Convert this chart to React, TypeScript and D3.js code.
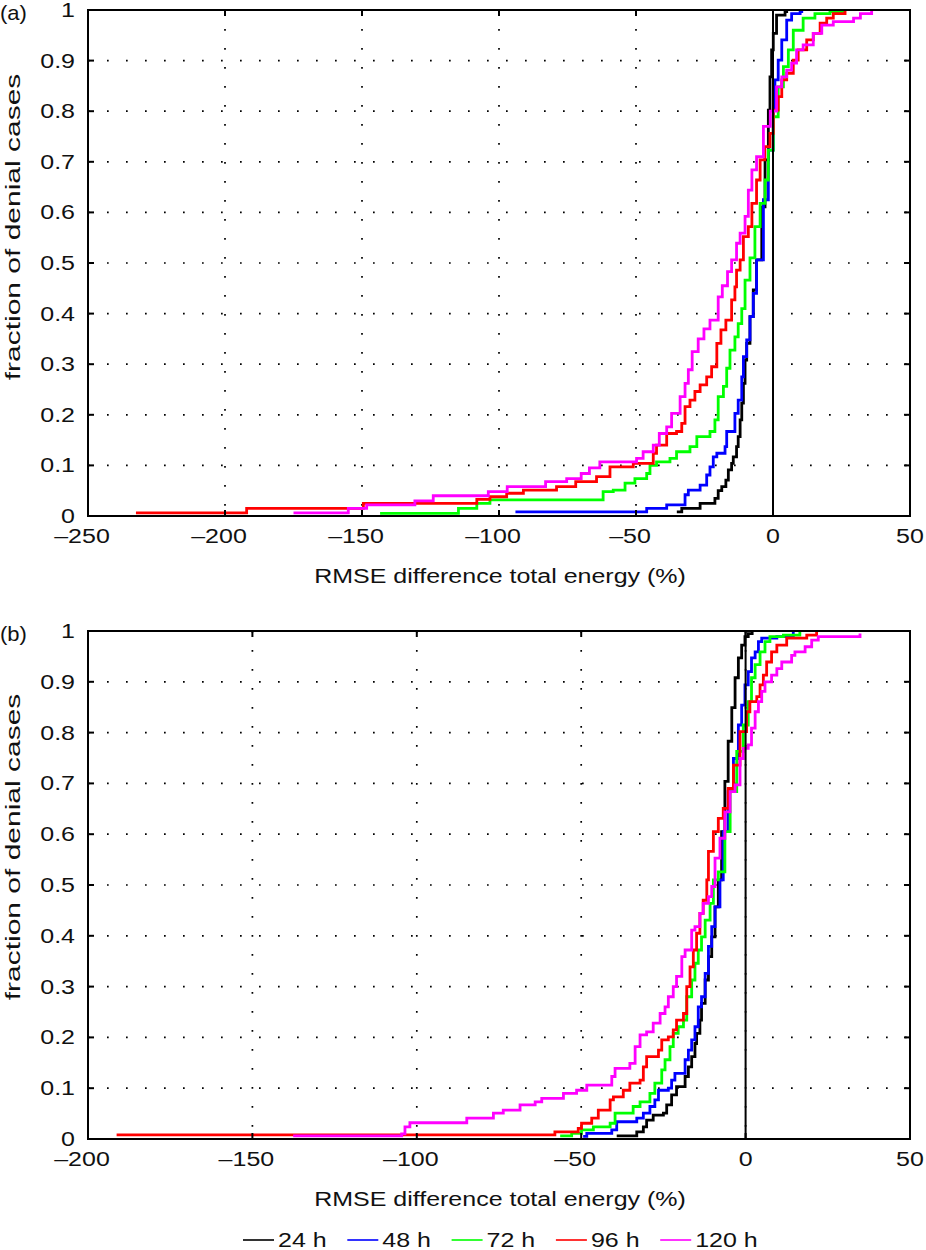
import * as d3 from 'd3';

// panel (a): [RMSE difference %, fraction of cases]
const a24: [number, number][] = [[-35.1,0.008],[-33.3,0.015],[-26.6,0.025],[-21.2,0.035],[-20,0.05],[-18.7,0.058],[-17.2,0.071],[-16.3,0.091],[-15.1,0.104],[-14.5,0.117],[-13.3,0.137],[-12.7,0.157],[-12,0.19],[-11.4,0.223],[-10.8,0.262],[-10.2,0.308],[-9.6,0.341],[-8.4,0.394],[-7.2,0.447],[-6,0.506],[-4.1,0.611],[-2.9,0.704],[-1.7,0.802],[-1.1,0.868],[-0.5,0.921],[0.1,0.954],[1.3,0.99],[4.4,0.997],[5,1]];
const a48: [number, number][] = [[-94,0.008],[-46.1,0.015],[-38.8,0.022],[-32.1,0.042],[-30.9,0.051],[-26.6,0.061],[-24.2,0.081],[-23,0.097],[-21.8,0.117],[-20.5,0.124],[-17.5,0.137],[-16.9,0.167],[-13.9,0.203],[-12.7,0.229],[-11.4,0.275],[-10.8,0.315],[-9.6,0.348],[-8.4,0.394],[-7.2,0.44],[-6,0.506],[-3.5,0.625],[-1.7,0.723],[0.1,0.802],[0.7,0.862],[1.9,0.901],[3.2,0.941],[5,0.98],[6.8,0.993],[9.9,0.997],[10.5,1]];
const a72: [number, number][] = [[-143.4,0.005],[-114.8,0.015],[-108.1,0.025],[-103.3,0.032],[-62,0.048],[-58.3,0.051],[-54,0.065],[-50.4,0.074],[-46.1,0.084],[-44.9,0.1],[-42.5,0.107],[-37.6,0.114],[-35.2,0.127],[-30.3,0.137],[-27.8,0.157],[-23,0.167],[-21.2,0.19],[-20,0.236],[-18.1,0.256],[-16.9,0.292],[-15.7,0.328],[-13.9,0.354],[-12.7,0.38],[-11.4,0.41],[-10.2,0.466],[-8.4,0.51],[-6.6,0.572],[-4.7,0.618],[-2.9,0.664],[-1.7,0.723],[0.1,0.789],[1.9,0.848],[3.8,0.888],[5.6,0.921],[7.4,0.96],[11,0.984],[15.3,0.993],[20.8,0.997],[25.5,1]];
const a96: [number, number][] = [[-232.5,0.006],[-192.1,0.015],[-149.5,0.025],[-108.1,0.033],[-103.3,0.038],[-97.2,0.045],[-91.1,0.051],[-79,0.058],[-72,0.068],[-64.4,0.078],[-59.5,0.097],[-51,0.104],[-43.7,0.124],[-42.5,0.14],[-38.8,0.163],[-35.2,0.167],[-33.3,0.183],[-32.1,0.216],[-30.3,0.229],[-28.5,0.246],[-26.6,0.259],[-24.2,0.275],[-22.4,0.295],[-20.5,0.341],[-19,0.368],[-17.2,0.387],[-15.1,0.427],[-13.9,0.453],[-13.3,0.486],[-12,0.506],[-10.8,0.552],[-9,0.572],[-7.7,0.618],[-6,0.664],[-4.7,0.704],[-3,0.73],[-1.1,0.756],[0.1,0.802],[1.9,0.829],[3.2,0.862],[5,0.875],[7.4,0.901],[9.2,0.921],[12.3,0.941],[14.7,0.954],[17.2,0.974],[19.6,0.984],[22,0.993],[26.3,1]];
const a120: [number, number][] = [[-175,0.006],[-155,0.015],[-148.3,0.022],[-130.7,0.03],[-124,0.04],[-103.9,0.048],[-97,0.058],[-83,0.068],[-75.3,0.074],[-70,0.084],[-67,0.095],[-63.2,0.107],[-49.8,0.114],[-47.4,0.127],[-43.7,0.14],[-41.5,0.163],[-38.8,0.176],[-37,0.203],[-33.9,0.236],[-32.1,0.262],[-30.9,0.289],[-29.5,0.325],[-27.3,0.35],[-25.2,0.37],[-23,0.387],[-20,0.433],[-18.5,0.455],[-16.6,0.483],[-15.1,0.506],[-13.3,0.539],[-12,0.559],[-10.2,0.592],[-9,0.644],[-7.7,0.684],[-6,0.71],[-3.5,0.77],[-1,0.8],[1.3,0.848],[3.2,0.868],[5,0.881],[6.8,0.895],[8.6,0.921],[11,0.931],[14.7,0.954],[17.8,0.97],[22,0.977],[29.4,0.984],[31.9,0.993],[36,1]];

// panel (b)
const b24: [number, number][] = [[-39.2,0.006],[-33.1,0.014],[-31.1,0.024],[-30.1,0.037],[-28.1,0.047],[-25,0.051],[-24,0.067],[-22.5,0.087],[-21,0.103],[-18.4,0.123],[-17.4,0.142],[-16.4,0.162],[-15.4,0.188],[-14.9,0.208],[-13.9,0.234],[-13.4,0.267],[-12.3,0.313],[-11.3,0.359],[-10.3,0.398],[-9.3,0.457],[-8.3,0.51],[-7.3,0.605],[-6.3,0.704],[-5.3,0.783],[-4.2,0.849],[-3.2,0.908],[-2.2,0.947],[-1.2,0.972],[-0.2,0.989],[0.8,0.995],[2,1]];
const b48: [number, number][] = [[-49.4,0.005],[-48.3,0.011],[-40.7,0.018],[-39.2,0.034],[-33.1,0.041],[-31.1,0.051],[-29.1,0.064],[-27.6,0.077],[-26.5,0.096],[-23.5,0.1],[-22.5,0.116],[-21.5,0.129],[-18.4,0.156],[-17.4,0.175],[-16.4,0.195],[-15.4,0.221],[-14.4,0.26],[-13.4,0.28],[-12.3,0.326],[-11.3,0.379],[-10.3,0.418],[-9.3,0.457],[-7.8,0.51],[-6.8,0.605],[-5.3,0.684],[-3.7,0.749],[-2.2,0.815],[-1.2,0.854],[-0.2,0.894],[0.8,0.92],[1.8,0.947],[2.9,0.959],[3.9,0.979],[4.9,0.986],[9.5,0.989],[14.5,1]];
const b72: [number, number][] = [[-56.4,0.006],[-52.9,0.011],[-49.9,0.018],[-46.3,0.024],[-41.2,0.031],[-39.7,0.051],[-34.2,0.064],[-32.1,0.073],[-29.1,0.09],[-27.6,0.11],[-25.5,0.136],[-24.5,0.156],[-23,0.182],[-22,0.208],[-20.5,0.221],[-18.9,0.234],[-17.9,0.28],[-16.4,0.313],[-15.4,0.346],[-14.4,0.372],[-13.4,0.398],[-12.3,0.431],[-10.8,0.464],[-9.8,0.51],[-8.3,0.526],[-6.3,0.605],[-4.7,0.684],[-2.7,0.763],[-0.7,0.815],[0.8,0.861],[1.8,0.908],[2.9,0.934],[4.4,0.959],[5.9,0.979],[7.4,0.989],[11.5,0.992],[16.5,1]];
const b96: [number, number][] = [[-191.3,0.008],[-58,0.014],[-50.9,0.021],[-49.9,0.031],[-46.8,0.041],[-44.8,0.057],[-41.2,0.077],[-40.2,0.083],[-37.2,0.096],[-35.2,0.11],[-32.1,0.116],[-31.1,0.142],[-30.1,0.162],[-26.5,0.175],[-25.5,0.195],[-23.5,0.201],[-22,0.215],[-21,0.234],[-18.9,0.247],[-17.9,0.3],[-16.9,0.339],[-15.9,0.372],[-14.9,0.405],[-13.9,0.444],[-12.9,0.47],[-11.8,0.51],[-11.3,0.566],[-9.8,0.605],[-8.3,0.631],[-6.8,0.651],[-5.3,0.69],[-3.7,0.736],[-1.7,0.802],[0.3,0.841],[1.3,0.861],[3.4,0.871],[4.4,0.894],[5.4,0.913],[6.4,0.939],[7.9,0.959],[9.5,0.972],[12.5,0.986],[18.6,0.992],[21.6,1]];
const b120: [number, number][] = [[-137.6,0.006],[-104.6,0.01],[-103.6,0.024],[-102.1,0.032],[-84.8,0.041],[-76.7,0.051],[-73.7,0.057],[-68.6,0.067],[-64,0.073],[-62,0.08],[-55.4,0.09],[-51.4,0.096],[-48.3,0.106],[-40.7,0.123],[-39.7,0.139],[-35.2,0.149],[-33.6,0.182],[-32.1,0.205],[-30.1,0.211],[-28.1,0.228],[-26,0.247],[-24.5,0.26],[-23.5,0.28],[-22,0.3],[-21,0.32],[-19.4,0.359],[-18.4,0.372],[-16.4,0.411],[-15.4,0.418],[-13.9,0.444],[-12.9,0.464],[-11.3,0.477],[-10.3,0.497],[-9.3,0.553],[-7.8,0.592],[-6.3,0.644],[-4.7,0.684],[-3.2,0.697],[-1.7,0.749],[-0.7,0.769],[0.8,0.776],[1.8,0.809],[2.9,0.841],[3.9,0.861],[4.9,0.881],[5.9,0.9],[7.9,0.913],[9.5,0.926],[11,0.939],[14,0.952],[15,0.959],[18.1,0.969],[20.1,0.982],[22.1,0.989],[34.8,0.995]];

const leadTimes = ['24 h', '48 h', '72 h', '96 h', '120 h'];
const colors = ['#000000', '#0000ff', '#00ff00', '#ff0000', '#ff00ff'];
const xTicksA = [-250, -200, -150, -100, -50, 0, 50];
const xTicksB = [-200, -150, -100, -50, 0, 50];
const yTicks = [0, 0.1, 0.2, 0.3, 0.4, 0.5, 0.6, 0.7, 0.8, 0.9, 1];

const FONT = '"Liberation Sans", Arial, Helvetica, sans-serif';
const SX = 1.25; // the source type is set wide

function Txt({ x, y, size = 20, anchor = 'start', rotate = 0, sx = SX, children }: any) {
  return (
    <text
      transform={`translate(${x},${y}) rotate(${rotate}) scale(${sx},1)`}
      textAnchor={anchor}
      fontFamily={FONT}
      fontSize={size}
      fill="#111"
    >
      {children}
    </text>
  );
}

const fmt = (v: number) => (v < 0 ? '\u2013' + Math.abs(v) : String(v));
const fmtY = (v: number) => (v === 0 ? '0' : v === 1 ? '1' : v.toFixed(1));

function Panel({ tag, domain, ticks, series, top, bottom, labelShift }: any) {
  const left = 88;
  const right = 910;
  const x = d3.scaleLinear().domain(domain).range([left, right]);
  const y = d3.scaleLinear().domain([0, 1]).range([bottom, top]);
  const line = d3
    .line<[number, number]>()
    .x((d) => x(d[0]))
    .y((d) => y(d[1]))
    .curve(d3.curveStepAfter);
  const tl = 6;

  return (
    <g>
      {/* dotted grid */}
      {ticks.map((t: number) => (
        <line key={'gx' + t} x1={x(t)} x2={x(t)} y1={top} y2={bottom}
          stroke="#000" strokeWidth={1.7} strokeDasharray="1.7 17.3" />
      ))}
      {yTicks.map((t) => (
        <line key={'gy' + t} x1={left} x2={right} y1={y(t)} y2={y(t)}
          stroke="#000" strokeWidth={1.7} strokeDasharray="1.7 17.3" />
      ))}

      {/* curves */}
      {series.map((s: [number, number][], i: number) => (
        <path key={i} d={line(s) || ''} fill="none" stroke={colors[i]} strokeWidth={2.8} />
      ))}

      {/* zero line */}
      <line x1={x(0)} x2={x(0)} y1={top} y2={bottom} stroke="#000" strokeWidth={2} />

      {/* box and inward ticks */}
      <rect x={left} y={top} width={right - left} height={bottom - top} fill="none" stroke="#000" strokeWidth={2} />
      {ticks.map((t: number) => (
        <g key={'tx' + t}>
          <line x1={x(t)} x2={x(t)} y1={bottom} y2={bottom - tl} stroke="#000" strokeWidth={2} />
          <line x1={x(t)} x2={x(t)} y1={top} y2={top + tl} stroke="#000" strokeWidth={2} />
          <Txt x={x(t) - (t < 0 ? 6 : 0)} y={bottom + 27} anchor="middle">{fmt(t)}</Txt>
        </g>
      ))}
      {yTicks.map((t) => (
        <g key={'ty' + t}>
          <line x1={left} x2={left + tl} y1={y(t)} y2={y(t)} stroke="#000" strokeWidth={2} />
          <line x1={right} x2={right - tl} y1={y(t)} y2={y(t)} stroke="#000" strokeWidth={2} />
          <Txt x={75} y={y(t) + 7} anchor="end">{fmtY(t)}</Txt>
        </g>
      ))}

      <Txt x={(left + right) / 2 + 1} y={bottom + 67} anchor="middle">RMSE difference total energy (%)</Txt>
      <Txt x={20} y={(top + bottom) / 2 - labelShift} rotate={-90} anchor="middle" sx={1.5}>fraction of denial cases</Txt>
      <Txt x={0} y={top + 10} sx={1.1}>{tag}</Txt>
    </g>
  );
}

export default function App() {
  return (
    <div style={{ position: 'absolute', left: 0, top: 0 }}>
      <svg width={926} height={1250} viewBox="0 0 926 1250" style={{ display: 'block', background: '#fff' }}>
        <Panel tag="(a)" domain={[-250, 50]} ticks={xTicksA} series={[a24, a48, a72, a96, a120]} top={10} bottom={516} labelShift={36} />
        <Panel tag="(b)" domain={[-200, 50]} ticks={xTicksB} series={[b24, b48, b72, b96, b120]} top={631} bottom={1139} labelShift={38} />
        {leadTimes.map((name, i) => {
          const x0 = 243 + i * 104.3;
          return (
            <g key={name}>
              <line x1={x0} x2={x0 + 31} y1={1240} y2={1240} stroke={colors[i]} strokeWidth={1.6} />
              <Txt x={x0 + 35} y={1247}>{name}</Txt>
            </g>
          );
        })}
      </svg>
    </div>
  );
}
